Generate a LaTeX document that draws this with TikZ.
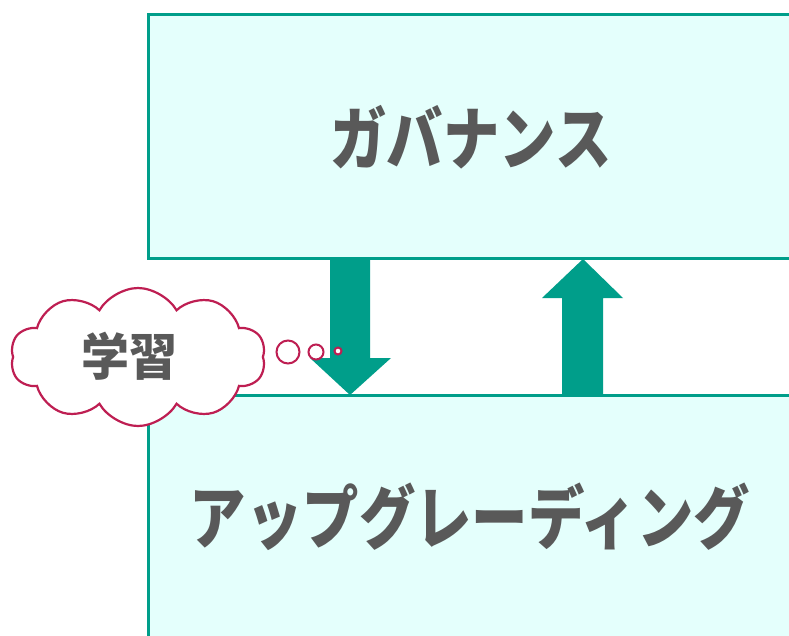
\documentclass[tikz,border=0pt]{standalone}
\usepackage{fontspec}
\newfontfamily\jp{Noto Sans CJK JP}
\usetikzlibrary{shapes.symbols}
\definecolor{teal1}{HTML}{009E8A}
\definecolor{boxfill}{HTML}{E4FFFC}
\definecolor{txt}{HTML}{595959}
\definecolor{crim}{HTML}{BE1E52}
\tikzset{
  panel/.style={draw=teal1, line width=3pt, fill=boxfill, inner sep=0pt},
  big/.style={text=txt, font=\jp\bfseries\fontsize{60}{72}\selectfont, xscale=0.94, yscale=1.15},
  blockarrow/.style={fill=teal1},
  thought/.style={cloud, cloud puffs=10, cloud puff arc=120, aspect=1.85, draw=crim, line width=2.2pt, fill=white, inner sep=0pt, minimum width=255pt, minimum height=138pt},
  thoughttext/.style={text=txt, font=\jp\bfseries\fontsize{48}{58}\selectfont, yscale=1.05},
  bubble/.style={circle, draw=crim, line width=2pt, fill=white, inner sep=0pt}
}
\begin{document}
\begin{tikzpicture}[x=1pt,y=-1pt]
\useasboundingbox (0,0) rectangle (789,635);
\clip (0,0) rectangle (789,635);
\fill[white] (0,0) rectangle (789,635);
\node[panel, minimum width=644pt, minimum height=244pt] (gov) at (470.5,136.5) {};
\node[big] (govt) at (471,137) {ガバナンス};
\node[panel, minimum width=644pt, minimum height=250pt] (upg) at (470.5,520) {};
\node[big] (upgt) at (470,517) {アップグレーディング};
% down arrow
\fill[blockarrow] (330,258) -- (370,258) -- (370,358) -- (391,358) -- (350,395) -- (310,358) -- (330,358) -- cycle;
% up arrow
\fill[blockarrow] (562,395) -- (603,395) -- (603,298) -- (623,298) -- (583,259) -- (542,298) -- (562,298) -- cycle;
\node[thought] (learn) at (138,357) {};
\node[thoughttext] (learnt) at (129,356) {学習};
\node[bubble, minimum size=23pt] (b1) at (288,352) {};
\node[bubble, minimum size=15pt] (b2) at (316,352) {};
\node[bubble, minimum size=7pt] (b3) at (338,351) {};
\end{tikzpicture}
\end{document}
